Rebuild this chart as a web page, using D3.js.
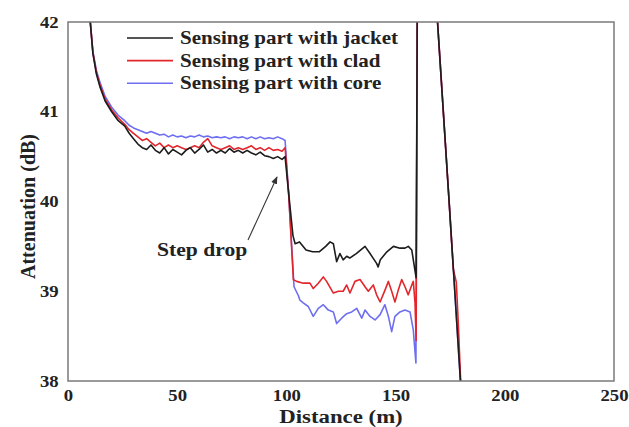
<!DOCTYPE html>
<html>
<head>
<meta charset="utf-8">
<script src="https://cdn.jsdelivr.net/npm/d3@7"></script>
<style>
  body { margin: 0; background: #fff; }
</style>
</head>
<body>
<script>
// distances (m) and attenuation (dB)
let leadDist = [9.5, 10.2, 11.4, 13, 14.6, 17, 20, 23, 26, 28, 30, 32, 34, 36, 38, 40, 42, 44, 46, 48, 50,
  52, 54, 56, 58, 60, 62, 64, 66, 68, 70, 72, 74, 76, 78, 80, 82, 84, 86, 88, 90, 92, 94, 96, 98, 99.4, 101];

let jacketDist = leadDist.concat([103, 104, 106, 109, 112, 115, 118, 120, 121.5, 123, 124.5, 126, 127.6, 129,
  132, 136, 138.3, 141.3, 142, 143, 146, 149, 152, 154.3, 155.8, 157.4, 159.4, 160, 168.6, 169.2, 174.5, 180]);
let jacketAtt = [42.4, 42.0, 41.65, 41.42, 41.28, 41.12, 41.0, 40.9, 40.84, 40.76, 40.7, 40.64, 40.6, 40.58,
  40.63, 40.57, 40.54, 40.6, 40.53, 40.58, 40.55, 40.52, 40.57, 40.6, 40.54, 40.58, 40.63, 40.55, 40.58, 40.54,
  40.57, 40.54, 40.59, 40.55, 40.57, 40.54, 40.57, 40.54, 40.52, 40.55, 40.51, 40.5, 40.48, 40.5, 40.47, 40.5,
  40.1, 39.62, 39.53, 39.55, 39.46, 39.44, 39.44, 39.5, 39.55, 39.53, 39.33, 39.42, 39.35, 39.39, 39.37,
  39.42, 39.5, 39.42, 39.31, 39.27, 39.35, 39.44, 39.5, 39.48, 39.48, 39.5, 39.46, 39.15, 42.6, 42.6, 42.0,
  40.0, 37.88];

let cladDist = leadDist.concat([103.2, 104.7, 107.7, 110.8, 112.3, 114.6, 116.9, 118.4, 121.5, 123.8, 126,
  127.6, 129.1, 131.4, 133.7, 136, 137.5, 139.8, 141.3, 142.9, 145.1, 146.7, 148.2, 149.7, 151.2, 152.8,
  154.3, 155.8, 157.4, 158.1, 158.9, 159.4, 160, 168.6, 169.2, 174.5, 176.4, 177.8, 178.6, 180]);
let cladAtt = [42.4, 42.0, 41.66, 41.44, 41.3, 41.14, 41.02, 40.93, 40.86, 40.8, 40.76, 40.72, 40.68, 40.7,
  40.66, 40.62, 40.65, 40.6, 40.63, 40.6, 40.62, 40.6, 40.58, 40.6, 40.62, 40.6, 40.66, 40.7, 40.62, 40.6,
  40.58, 40.6, 40.62, 40.58, 40.6, 40.58, 40.6, 40.62, 40.58, 40.6, 40.57, 40.6, 40.57, 40.58, 40.56, 40.6,
  40.1, 39.13, 39.11, 39.09, 39.09, 39.03, 39.09, 39.16, 39.11, 38.98, 39.0, 39.0, 39.07, 38.98, 39.11,
  39.13, 39.05, 39.0, 39.07, 38.96, 38.88, 39.01, 39.11, 39.0, 38.88, 39.01, 39.13, 39.05, 38.96, 39.07,
  39.11, 38.87, 38.45, 42.6, 42.6, 42.0, 40.0, 39.25, 39.1, 38.7, 37.88];

let coreDist = leadDist.concat([103.5, 105.5, 106.2, 107.7, 110, 112.3, 114.6, 116.9, 119.2, 121.5, 123,
  125.3, 127.6, 129.9, 132.2, 134.5, 136, 138.3, 140.6, 142.9, 145.1, 146.7, 148.2, 149.7, 152, 154.3,
  156.6, 158.1, 159.3, 160, 168.6, 169.2, 174.5, 180]);
let coreAtt = [42.4, 42.0, 41.67, 41.46, 41.33, 41.17, 41.05, 40.96, 40.9, 40.85, 40.82, 40.8, 40.78, 40.76,
  40.78, 40.76, 40.74, 40.75, 40.72, 40.74, 40.72, 40.73, 40.71, 40.73, 40.72, 40.74, 40.72, 40.73, 40.71,
  40.72, 40.71, 40.72, 40.7, 40.72, 40.71, 40.72, 40.7, 40.72, 40.7, 40.72, 40.7, 40.71, 40.7, 40.72, 40.7,
  40.68, 40.1, 39.05, 38.95, 38.9, 38.87, 38.83, 38.72, 38.81, 38.85, 38.79, 38.77, 38.64, 38.7, 38.75,
  38.77, 38.81, 38.7, 38.79, 38.72, 38.68, 38.74, 38.85, 38.72, 38.55, 38.72, 38.77, 38.79, 38.77, 38.57,
  38.2, 42.6, 42.6, 42.0, 40.0, 37.88];

let seriesNames = ["Sensing part with jacket", "Sensing part with clad", "Sensing part with core"];
let seriesColors = ["#1c1c1c", "#e3262c", "#6e6ef0"];
let xTicks = [0, 50, 100, 150, 200, 250];
let yTicks = [38, 39, 40, 41, 42];

let width = 629, height = 427;
let margin = {top: 22, right: 15, bottom: 46, left: 68};
let sx = 1.17; // the figure's lettering is a little wide
let serif = "Liberation Serif, serif";

let svg = d3.select("body").append("svg")
  .attr("width", width)
  .attr("height", height)
  .attr("font-family", serif)
  .attr("font-weight", "bold")

let x = d3.scaleLinear().domain([0, 250]).range([margin.left, width - margin.right]);
let y = d3.scaleLinear().domain([38, 42]).range([height - margin.bottom, margin.top]);

svg.append("clipPath").attr("id", "plot")
  .append("rect")
  .attr("x", x(0)).attr("y", y(42))
  .attr("width", x(250) - x(0)).attr("height", y(38) - y(42));

let line = d3.line().x(d => x(d[0])).y(d => y(d[1]));

let series = [
  d3.zip(jacketDist, jacketAtt),
  d3.zip(cladDist, cladAtt),
  d3.zip(coreDist, coreAtt)
];

// draw core first so the jacket trace sits on top
let g = svg.append("g").attr("clip-path", "url(#plot)");
[2, 1, 0].forEach(i => {
  g.append("path")
    .datum(series[i])
    .attr("fill", "none")
    .attr("stroke", seriesColors[i])
    .attr("stroke-width", 1.6)
    .attr("stroke-linejoin", "round")
    .attr("d", line);
});

// axes
let xAxis = svg.append("g")
  .attr("transform", `translate(0,${y(38)})`)
  .call(d3.axisBottom(x).tickValues(xTicks).tickFormat(d3.format("d")).tickSize(0).tickPadding(9));
let yAxis = svg.append("g")
  .attr("transform", `translate(${x(0)},0)`)
  .call(d3.axisLeft(y).tickValues(yTicks).tickFormat(d3.format("d")).tickSize(0).tickPadding(8));

[xAxis, yAxis].forEach(a => {
  a.attr("font-family", serif).attr("font-size", 16);
  a.select(".domain").remove();
  a.selectAll("text")
    .attr("fill", "#222")
    .attr("transform", `scale(${sx},1)`);
});

// frame
svg.append("rect")
  .attr("x", x(0)).attr("y", y(42))
  .attr("width", x(250) - x(0)).attr("height", y(38) - y(42))
  .attr("fill", "none")
  .attr("stroke", "#7a7a7a")
  .attr("stroke-width", 1.5);

// axis titles
svg.append("text")
  .attr("text-anchor", "middle")
  .attr("transform", `translate(${(x(0) + x(250)) / 2},423) scale(1.2,1)`)
  .attr("font-size", 19)
  .attr("fill", "#222")
  .text("Distance (m)");

svg.append("text")
  .attr("text-anchor", "middle")
  .attr("transform", `translate(35,${y(40) + 5}) rotate(-90)`)
  .attr("font-size", 20)
  .attr("fill", "#222")
  .text("Attenuation (dB)");

// legend
let legend = svg.append("g").attr("transform", "translate(127,38)");
seriesNames.forEach((name, i) => {
  let row = legend.append("g").attr("transform", `translate(0,${i * 22.6})`);
  row.append("line")
    .attr("x1", 0).attr("x2", 46)
    .attr("stroke", seriesColors[i])
    .attr("stroke-width", 1.6);
  row.append("text")
    .attr("transform", `translate(53,6) scale(${sx},1)`)
    .attr("font-size", 18)
    .attr("fill", "#222")
    .text(name);
});

// annotation
svg.append("defs").append("marker")
  .attr("id", "head")
  .attr("viewBox", "0 0 10 10")
  .attr("refX", 9).attr("refY", 5)
  .attr("markerWidth", 7).attr("markerHeight", 7)
  .attr("orient", "auto")
  .append("path")
  .attr("d", "M0,1 L10,5 L0,9 Z")
  .attr("fill", "#333");

svg.append("line")
  .attr("x1", 248).attr("y1", 240)
  .attr("x2", 277).attr("y2", 177)
  .attr("stroke", "#333")
  .attr("stroke-width", 1.1)
  .attr("marker-end", "url(#head)");

svg.append("text")
  .attr("transform", `translate(157,256) scale(1.2,1)`)
  .attr("font-size", 18)
  .attr("fill", "#222")
  .text("Step drop");
</script>
</body>
</html>
